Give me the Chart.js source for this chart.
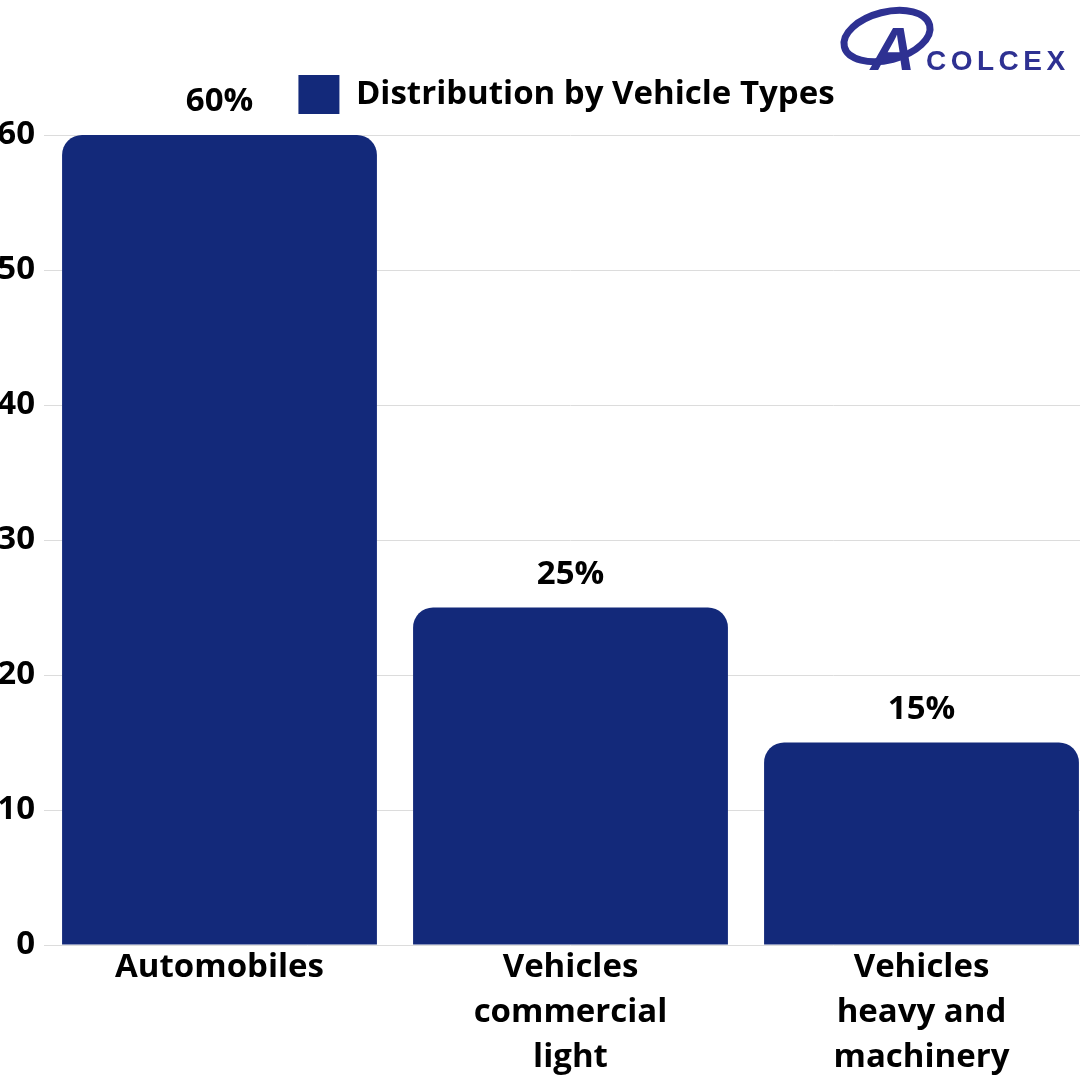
<!DOCTYPE html>
<html lang="en">
<head>
    <meta charset="UTF-8">
    <title>Distribution by Vehicle Types</title>
    <script src="https://cdn.jsdelivr.net/npm/chart.js"></script>
    <style>
        html, body { margin: 0; padding: 0; background: #ffffff; overflow: hidden; }
        #wrap { width: 1080px; height: 1080px; position: relative; overflow: hidden; }
        /* the plot runs a little past the right edge, like the original */
        #vehicleChart { position: absolute; left: 0; top: 0; }
    </style>
</head>
<body>
    <div id="wrap">
        <canvas id="vehicleChart" width="1097" height="1080"></canvas>
    </div>

    <script>
        const categories = [
            'Automobiles',
            ['Vehicles', 'commercial', 'light'],
            ['Vehicles', 'heavy and', 'machinery']
        ];
        const shares = [60, 25, 15];
        const yTicks = [0, 10, 20, 30, 40, 50, 60];
        const seriesName = 'Distribution by Vehicle Types';

        const barColor = '#13297a';
        const fontFamily = '"Open Sans", "DejaVu Sans", sans-serif';

        // percent labels over the bars
        const valueLabels = {
            id: 'valueLabels',
            afterDatasetsDraw(chart) {
                const ctx = chart.ctx;
                const meta = chart.getDatasetMeta(0);
                ctx.save();
                ctx.font = 'bold 33px ' + fontFamily;
                ctx.fillStyle = '#000000';
                ctx.textAlign = 'center';
                ctx.textBaseline = 'middle';
                meta.data.forEach((bar, i) => {
                    ctx.fillText(shares[i] + '%', bar.x, bar.y - 33);
                });
                ctx.restore();
            }
        };

        // nudge the legend: a bit right and closer to the top
        const legendShift = {
            id: 'legendShift',
            afterLayout(chart) {
                const lg = chart.legend;
                if (!lg) return;
                lg.left += 18;
                lg.right += 18;
                lg.top -= 11;
                lg.bottom -= 11;
            }
        };

        // company logo top right
        const logo = {
            id: 'logo',
            afterDraw(chart) {
                const ctx = chart.ctx;
                ctx.save();
                ctx.strokeStyle = '#2e3192';
                ctx.fillStyle = '#2e3192';
                ctx.lineWidth = 7;
                ctx.beginPath();
                ctx.ellipse(887, 36, 44, 24, -0.25, 0, Math.PI * 2);
                ctx.stroke();
                ctx.font = 'italic bold 62px "Liberation Sans", sans-serif';
                ctx.textAlign = 'center';
                ctx.textBaseline = 'alphabetic';
                ctx.fillText('A', 893, 70);
                ctx.font = 'bold 28px "Liberation Sans", sans-serif';
                ctx.textAlign = 'left';
                ctx.letterSpacing = '4.5px';
                ctx.fillText('COLCEX', 926, 70);
                ctx.restore();
            }
        };

        const ctx = document.getElementById('vehicleChart').getContext('2d');
        const vehicleChart = new Chart(ctx, {
            type: 'bar',
            data: {
                labels: categories,
                datasets: [{
                    label: seriesName,
                    data: shares,
                    backgroundColor: barColor,
                    borderWidth: 0,
                    borderRadius: { topLeft: 20, topRight: 20 },
                    borderSkipped: 'bottom',
                    barPercentage: 0.897,
                    categoryPercentage: 1
                }]
            },
            options: {
                responsive: false,
                animation: false,
                layout: {
                    padding: { top: 66, left: 0, right: 0, bottom: 0 }
                },
                plugins: {
                    legend: {
                        position: 'top',
                        labels: {
                            boxWidth: 41,
                            boxHeight: 39,
                            padding: 20,
                            color: '#000000',
                            font: { family: fontFamily, size: 33, weight: 'bold' }
                        }
                    },
                    tooltip: { enabled: true }
                },
                scales: {
                    x: {
                        grid: { display: false },
                        border: { display: false },
                        ticks: {
                            color: '#000000',
                            padding: -8,
                            maxRotation: 0,
                            font: { family: fontFamily, size: 33, weight: 'bold', lineHeight: 1.36 }
                        },
                        afterFit(scale) { scale.height = 135; }
                    },
                    y: {
                        min: 0,
                        max: 60,
                        afterBuildTicks(scale) {
                            scale.ticks = yTicks.map(v => ({ value: v }));
                        },
                        grid: { color: '#dcdcdc', lineWidth: 1, drawTicks: false },
                        border: { display: false },
                        ticks: {
                            color: '#000000',
                            padding: 9,
                            font: { family: fontFamily, size: 33, weight: 'bold' }
                        },
                        afterFit(scale) { scale.width = 44; }
                    }
                }
            },
            plugins: [valueLabels, legendShift, logo]
        });
    </script>
</body>
</html>
